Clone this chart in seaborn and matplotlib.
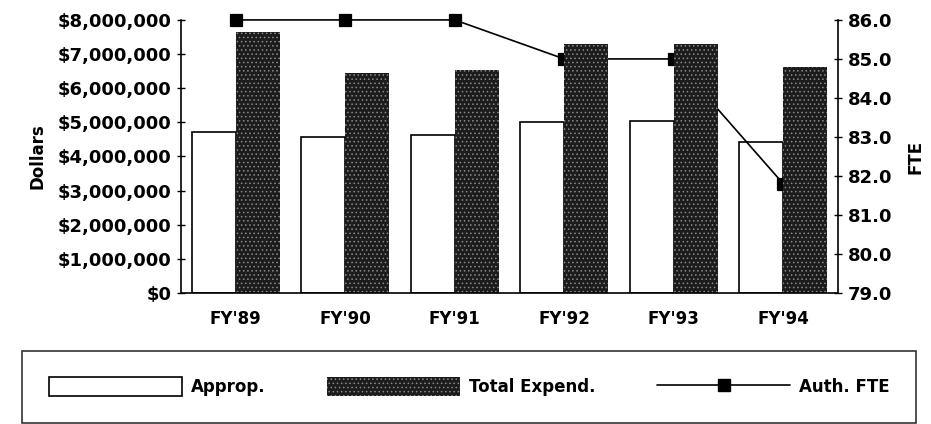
import numpy as np
import pandas as pd
import matplotlib
matplotlib.use("Agg")
import matplotlib.pyplot as plt
import matplotlib.ticker as mticker
from matplotlib.patches import Patch
from matplotlib.lines import Line2D
import seaborn as sns

# DATA
years        = ["FY'89", "FY'90", "FY'91", "FY'92", "FY'93", "FY'94"]
approp       = [4720000, 4580000, 4640000, 5010000, 5050000, 4430000]
total_expend = [7650000, 6450000, 6530000, 7300000, 7300000, 6630000]
auth_fte     = [86.0, 86.0, 86.0, 85.0, 85.0, 81.8]
series_names = ["Approp.", "Total Expend."]
dollar_ticks = [0, 1e6, 2e6, 3e6, 4e6, 5e6, 6e6, 7e6, 8e6]
fte_ticks    = [79, 80, 81, 82, 83, 84, 85, 86]

sns.set_style("white")
plt.rcParams['font.family'] = ['DejaVu Sans']
plt.rcParams['hatch.linewidth'] = 0.6
plt.rcParams['text.color'] = 'black'
plt.rcParams['axes.labelcolor'] = 'black'
plt.rcParams['xtick.color'] = 'black'
plt.rcParams['ytick.color'] = 'black'

df = pd.DataFrame({
    "year": years * 2,
    "value": approp + total_expend,
    "series": [series_names[0]] * len(years) + [series_names[1]] * len(years),
})

fig = plt.figure(figsize=(9.31, 4.24), dpi=100)
ax = fig.add_axes([0.1944, 0.309, 0.7057, 0.644])

sns.barplot(data=df, x="year", y="value", hue="series", order=years,
            hue_order=series_names, palette=["white", "#1c1c1c"],
            width=0.8, ax=ax, legend=False, saturation=1)

# style bars: hollow with black edge / dark stippled
# (hollow so the FTE line shows over the approp. bars but not the expend. bars)
n = len(years)
for i, p in enumerate(ax.patches[:2 * n]):
    if i < n:
        p.set_facecolor((1, 1, 1, 0))
        p.set_edgecolor("black")
        p.set_linewidth(1.2)
    else:
        p.set_facecolor("#1c1c1c")
        p.set_edgecolor("#8a8a8a")
        p.set_hatch("....")
        p.set_linewidth(0)

ax.set_ylim(0, 8e6)
ax.set_xlim(-0.5, n - 0.5)
ax.set_yticks(dollar_ticks)
ax.yaxis.set_major_formatter(mticker.FuncFormatter(lambda v, _: f"${v:,.0f}"))
ax.set_xticks(np.arange(n))
ax.set_xticklabels(years)
ax.set_xticks(np.arange(n + 1) - 0.5, minor=True)
ax.tick_params(axis="x", which="major", length=0, pad=12, labelsize=12)
ax.tick_params(axis="x", which="minor", length=6, direction="inout", width=1)
ax.tick_params(axis="y", length=6, direction="inout", width=1, labelsize=13, pad=4)
for lbl in ax.get_xticklabels() + ax.get_yticklabels():
    lbl.set_fontweight("bold")
ax.set_xlabel("")
ax.set_ylabel("Dollars", fontsize=12, fontweight="bold", labelpad=8)
for side in ["left", "bottom"]:
    ax.spines[side].set_color("black")
    ax.spines[side].set_linewidth(1.2)
ax.spines["top"].set_visible(False)
ax.spines["right"].set_visible(False)

# FTE line on right axis (drawn behind the bars)
ax2 = ax.twinx()
sns.pointplot(x=years, y=auth_fte, order=years, ax=ax2, color="black",
              markers="s", markersize=9, linewidth=1.2, errorbar=None)
ax2.set_ylim(79, 86)
ax2.set_xlim(-0.5, n - 0.5)
ax2.set_yticks(fte_ticks)
ax2.yaxis.set_major_formatter(mticker.FormatStrFormatter("%.1f"))
ax2.tick_params(axis="y", length=6, direction="inout", width=1, labelsize=13, pad=4)
for lbl in ax2.get_yticklabels():
    lbl.set_fontweight("bold")
ax2.set_ylabel("FTE", fontsize=12, fontweight="bold", labelpad=10)
ax2.spines["right"].set_color("black")
ax2.spines["right"].set_linewidth(1.2)
for side in ["top", "left", "bottom"]:
    ax2.spines[side].set_visible(False)
for m in ax2.lines:
    m.set_clip_on(False)
ax.set_zorder(ax2.get_zorder() + 1)
ax.patch.set_visible(False)

# legend box along the bottom
handles = [
    Patch(facecolor="white", edgecolor="black", linewidth=1.2),
    Patch(facecolor="#1c1c1c", edgecolor="#8a8a8a", hatch="....", linewidth=0),
    Line2D([0], [0], color="black", marker="s", markersize=9, linewidth=1.2),
]
leg = fig.legend(handles, series_names + ["Auth. FTE"], ncol=3,
                 loc="center", bbox_to_anchor=(0.024, 0.005, 0.96, 0.166),
                 mode="expand", frameon=True, fancybox=False, fontsize=12,
                 handlelength=8.0, handleheight=1.3, handletextpad=0.5,
                 borderpad=1.6, borderaxespad=0)
for t in leg.get_texts():
    t.set_fontweight("bold")
leg.get_frame().set_edgecolor("black")
leg.get_frame().set_linewidth(1.2)

plt.savefig("out.png", dpi=100)
